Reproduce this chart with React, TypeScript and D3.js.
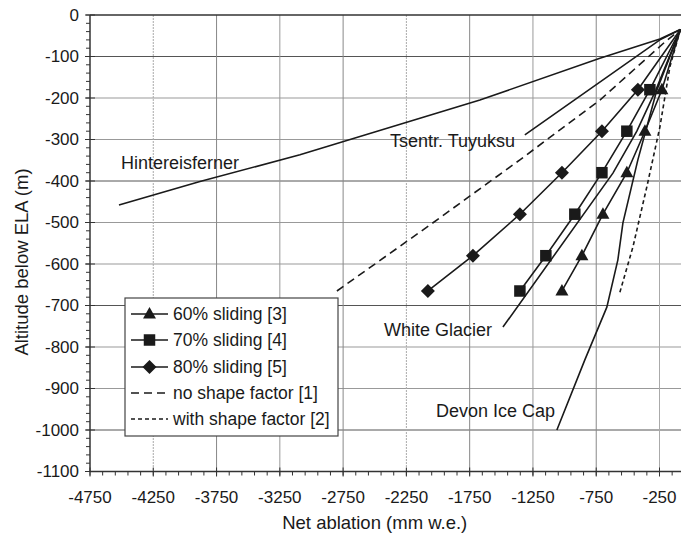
import React from "react";
import * as d3 from "d3";

// ---- data ----
const yLevels = [-665, -580, -480, -380, -280, -180];
const sliding60X = [-1021, -863, -697, -508, -365, -231];
const sliding70X = [-1353, -1148, -919, -705, -508, -326];
const sliding80X = [-2080, -1724, -1353, -1021, -705, -421];
const apex = { x: -85, y: -35 };

const hinterX = [-4521, -3881, -3091, -1669, -721, -247];
const hinterY = [-458, -401, -337, -205, -104, -58];
const tuyuksuX = [-1314, -247];
const tuyuksuY = [-289, -60];
const noShapeX = [-2799, -2064, -1353, -721, -207];
const noShapeY = [-665, -506, -349, -205, -65];
const withShapeX = [-563, -460, -350, -247, -168];
const withShapeY = [-668, -559, -414, -270, -125];
const whiteX = [-1487, -618, -429, -279];
const whiteY = [-752, -381, -280, -181];
const devonX = [-1061, -840, -666, -579, -539, -421, -271];
const devonY = [-1000, -831, -704, -590, -501, -349, -181];

const xTicks = [-4750, -4250, -3750, -3250, -2750, -2250, -1750, -1250, -750, -250];
const yTicks = [0, -100, -200, -300, -400, -500, -600, -700, -800, -900, -1000, -1100];

const legendItems = [
  { label: "60% sliding [3]", marker: "triangle", dash: null },
  { label: "70% sliding [4]", marker: "square", dash: null },
  { label: "80% sliding [5]", marker: "diamond", dash: null },
  { label: "no shape factor [1]", marker: null, dash: "8,5" },
  { label: "with shape factor [2]", marker: null, dash: "4,3" },
];

const W = 681;
const H = 536;
const FONT = "'Liberation Sans', Arial, Helvetica, sans-serif";
const INK = "#1a1a1a";

function markerPath(kind: string, cx: number, cy: number): string {
  if (kind === "triangle") {
    const s = 13;
    const h = 11.5;
    return `M${cx},${cy - h * 0.6}L${cx + s / 2},${cy + h * 0.4}L${cx - s / 2},${cy + h * 0.4}Z`;
  }
  if (kind === "square") {
    const s = 11.5;
    return `M${cx - s / 2},${cy - s / 2}h${s}v${s}h${-s}Z`;
  }
  const r = 7;
  return `M${cx},${cy - r}L${cx + r},${cy}L${cx},${cy + r}L${cx - r},${cy}Z`;
}

export default function App() {
  const x = d3.scaleLinear().domain([-4750, -250]).range([90, 659.5]);
  const y = d3.scaleLinear().domain([0, -1100]).range([15, 471.5]);
  const line = d3
    .line<[number, number]>()
    .x((d) => x(d[0]))
    .y((d) => y(d[1]));

  const zip = (xs: number[], ys: number[]) => xs.map((v, i) => [v, ys[i]] as [number, number]);
  const withApex = (pts: [number, number][]) => [...pts, [apex.x, apex.y] as [number, number]];

  const series = [
    { pts: withApex(zip(hinterX, hinterY)), dash: null },
    { pts: withApex(zip(tuyuksuX, tuyuksuY)), dash: null },
    { pts: withApex(zip(noShapeX, noShapeY)), dash: "8,5" },
    { pts: withApex(zip(withShapeX, withShapeY)), dash: "4,3" },
    { pts: withApex(zip(whiteX, whiteY)), dash: null },
    { pts: withApex(zip(devonX, devonY)), dash: null },
    { pts: withApex(zip(sliding60X, yLevels)), dash: null },
    { pts: withApex(zip(sliding70X, yLevels)), dash: null },
    { pts: withApex(zip(sliding80X, yLevels)), dash: null },
  ];

  const markerSeries = [
    { xs: sliding60X, kind: "triangle" },
    { xs: sliding70X, kind: "square" },
    { xs: sliding80X, kind: "diamond" },
  ];

  const x0 = x(-4750);
  const yBottom = y(-1100);
  const xMinor = d3.range(-4750, 0, 100);
  const yMinor = d3.range(0, -1101, -20);

  const legX = 125, legY = 298, legW = 213, legH = 138;
  const rowY = [314, 340, 367, 393, 419];

  return (
    <svg
      width={W}
      height={H}
      style={{ position: "absolute", left: 0, top: 0, background: "#fff" }}
      fontFamily={FONT}
    >
      <defs>
        <clipPath id="plot">
          <rect x={x0} y={0} width={W - x0} height={yBottom + 1} />
        </clipPath>
      </defs>
      <rect width={W} height={H} fill="#fff" />

      {/* grid */}
      {yTicks.slice(1, -1).map((t, i) => (
        <line
          key={"gy" + t}
          x1={x0}
          x2={W}
          y1={y(t)}
          y2={y(t)}
          stroke={i % 3 === 0 ? "#555" : "#999"}
          strokeWidth={1}
        />
      ))}
      {xTicks.slice(1).map((t, i) => (
        <line
          key={"gx" + t}
          x1={x(t)}
          x2={x(t)}
          y1={15}
          y2={yBottom}
          stroke={i % 4 === 0 ? "#aaa" : i % 2 === 1 ? "#888" : "#999"}
          strokeWidth={1}
          strokeDasharray={t === -4250 || t === -2250 ? "2,1" : undefined}
        />
      ))}
      {/* top border */}
      <line x1={x0} x2={W} y1={y(0)} y2={y(0)} stroke="#333" strokeWidth={1.5} />

      {/* data lines */}
      <g clipPath="url(#plot)">
        {series.map((s, i) => (
          <path
            key={"s" + i}
            d={line(s.pts) || ""}
            fill="none"
            stroke={INK}
            strokeWidth={1.6}
            strokeDasharray={s.dash || undefined}
          />
        ))}
        {markerSeries.map((m) =>
          m.xs.map((v, i) => (
            <path key={m.kind + i} d={markerPath(m.kind, x(v), y(yLevels[i]))} fill={INK} />
          ))
        )}
      </g>

      {/* axes */}
      <line x1={x0} x2={x0} y1={15} y2={yBottom} stroke="#333" strokeWidth={1.5} />
      <line x1={x0} x2={W} y1={yBottom} y2={yBottom} stroke="#333" strokeWidth={1.5} />
      {yMinor.map((t) => (
        <line key={"ym" + t} x1={x0 - 4} x2={x0} y1={y(t)} y2={y(t)} stroke="#333" strokeWidth={1} />
      ))}
      {yTicks.map((t) => (
        <g key={"yt" + t}>
          <line x1={x0 - 5} x2={x0 + 5} y1={y(t)} y2={y(t)} stroke="#333" strokeWidth={1} />
          <text x={79} y={y(t)} dy="0.35em" textAnchor="end" fontSize={17} fill={INK}>
            {t}
          </text>
        </g>
      ))}
      {xMinor.map((t) => (
        <line key={"xm" + t} x1={x(t)} x2={x(t)} y1={yBottom} y2={yBottom + 4} stroke="#333" strokeWidth={1} />
      ))}
      {xTicks.map((t) => (
        <g key={"xt" + t}>
          <line x1={x(t)} x2={x(t)} y1={yBottom - 4} y2={yBottom + 5} stroke="#333" strokeWidth={1} />
          <text x={x(t)} y={497} dy="0.35em" textAnchor="middle" fontSize={17} fill={INK}>
            {t}
          </text>
        </g>
      ))}
      <text x={x(-2500)} y={523} dy="0.35em" textAnchor="middle" fontSize={18.5} fill={INK}>
        Net ablation (mm w.e.)
      </text>
      <text
        transform={`translate(22,${262}) rotate(-90)`}
        dy="0.35em"
        textAnchor="middle"
        fontSize={18.5}
        fill={INK}
      >
        Altitude below ELA (m)
      </text>

      {/* annotations */}
      <text x={121} y={163} dy="0.35em" fontSize={18} fill={INK}>Hintereisferner</text>
      <text x={390} y={141} dy="0.35em" fontSize={18} fill={INK}>Tsentr. Tuyuksu</text>
      <text x={384} y={330} dy="0.35em" fontSize={18} fill={INK}>White Glacier</text>
      <text x={436} y={411} dy="0.35em" fontSize={18} fill={INK}>Devon Ice Cap</text>

      {/* legend */}
      <rect x={legX} y={legY} width={legW} height={legH} fill="#fff" stroke="#444" strokeWidth={1.2} />
      {legendItems.map((it, i) => (
        <g key={"lg" + i}>
          <line
            x1={131}
            x2={168}
            y1={rowY[i]}
            y2={rowY[i]}
            stroke={INK}
            strokeWidth={1.6}
            strokeDasharray={it.dash || undefined}
          />
          {it.marker && <path d={markerPath(it.marker, 149.5, rowY[i])} fill={INK} />}
          <text x={173} y={rowY[i]} dy="0.35em" fontSize={17.5} fill={INK}>
            {it.label}
          </text>
        </g>
      ))}
    </svg>
  );
}
